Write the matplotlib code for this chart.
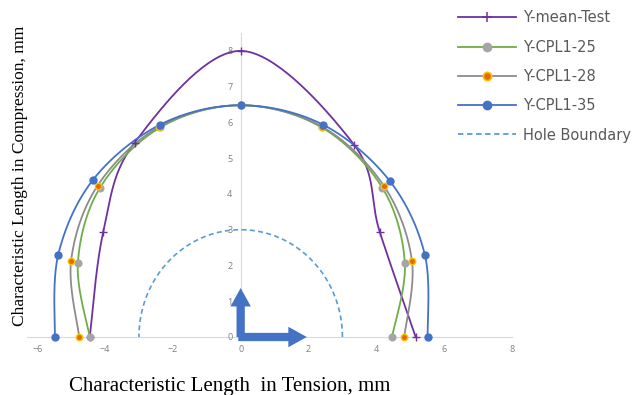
import numpy as np
import matplotlib
matplotlib.use("Agg")
import matplotlib.pyplot as plt
from matplotlib.lines import Line2D
from matplotlib.patches import FancyArrowPatch

# ---- data ----
mean_x = [-4.45, -4.05, -3.13, 0.0, 3.34, 4.10, 5.16]
mean_y = [0.0, 2.94, 5.43, 8.0, 5.38, 2.94, 0.0]

c25_x = [-4.45, -4.80, -4.15, -2.37, 0.0, 2.39, 4.18, 4.84, 4.46]
c25_y = [0.0, 2.07, 4.17, 5.86, 6.48, 5.86, 4.17, 2.07, 0.0]

c28_x = [-4.76, -5.00, -4.22, -2.40, 0.0, 2.40, 4.22, 5.05, 4.82]
c28_y = [0.0, 2.13, 4.23, 5.88, 6.48, 5.88, 4.23, 2.13, 0.0]

c35_x = [-5.48, -5.38, -4.35, -2.37, 0.0, 2.42, 4.39, 5.43, 5.51]
c35_y = [0.0, 2.30, 4.40, 5.94, 6.48, 5.94, 4.37, 2.30, 0.0]

hole_radius = 3.0
arrow_up_len = 1.37
arrow_right_len = 1.95

x_ticks = [-6, -4, -2, 0, 2, 4, 6, 8]
y_ticks = [0, 1, 2, 3, 4, 5, 6, 7, 8]

labels = ["Y-mean-Test", "Y-CPL1-25", "Y-CPL1-28", "Y-CPL1-35", "Hole Boundary"]


def smooth(xs, ys, n=40):
    """Excel-like smoothed line (Bezier with Catmull-Rom control points)."""
    P = np.column_stack([xs, ys]).astype(float)
    m = len(P)
    out = []
    for i in range(m - 1):
        p0 = P[i - 1] if i > 0 else P[i]
        p1 = P[i]
        p2 = P[i + 1]
        p3 = P[i + 2] if i + 2 < m else P[i + 1]
        c1 = p1 + (p2 - p0) / 6.0
        c2 = p2 - (p3 - p1) / 6.0
        t = np.linspace(0, 1, n)[:, None]
        seg = ((1 - t) ** 3) * p1 + 3 * ((1 - t) ** 2) * t * c1 + 3 * (1 - t) * t ** 2 * c2 + t ** 3 * p2
        out.append(seg if i == 0 else seg[1:])
    S = np.vstack(out)
    return S[:, 0], S[:, 1]


fig = plt.figure(figsize=(6.44, 3.95), dpi=100)
ax = fig.add_axes([27 / 644, 58 / 395, 485 / 644, 304 / 395])

purple = "#7030A0"
green = "#70AD47"
gray = "#A5A5A5"
gline = "#8C8C8C"
orange = "#E36C0A"
yellow = "#FFC000"
blue = "#4472C4"
lblue = "#5B9BD5"

lw = 1.3
# hole boundary
th = np.linspace(0, np.pi, 200)
ax.plot(hole_radius * np.cos(th), hole_radius * np.sin(th), color=lblue, lw=1.2,
        ls=(0, (3, 2)), zorder=2)

series = [
    (mean_x, mean_y, purple, dict(marker="+", ms=6, mec=purple, mew=1.0)),
    (c25_x, c25_y, green, dict(marker="o", ms=4.8, mfc=gray, mec=gray)),
    (c28_x, c28_y, gline, dict(marker="o", ms=4.6, mfc=orange, mec=yellow, mew=1.0)),
    (c35_x, c35_y, blue, dict(marker="o", ms=5, mfc=blue, mec=blue)),
]
for xs, ys, col, mk in series:
    sx, sy = smooth(xs, ys)
    ax.plot(sx, sy, color=col, lw=lw, zorder=3, clip_on=False)
    ax.plot(xs, ys, ls="none", zorder=4, clip_on=False, **mk)

# arrows
arrow_col = "#4472C4"
for dx, dy in [(0, arrow_up_len), (arrow_right_len, 0)]:
    ax.add_patch(FancyArrowPatch((0, 0) if dy else (-0.07, 0), (dx, dy),
                                 arrowstyle="simple,head_length=1.9,head_width=2.1,tail_width=0.85",
                                 mutation_scale=7, color=arrow_col, lw=0,
                                 shrinkA=0, shrinkB=0, zorder=5, clip_on=False))

ax.set_xlim(-6.3, 8)
ax.set_ylim(0, 8.5)
for s in ["top", "right"]:
    ax.spines[s].set_visible(False)
ax.spines["left"].set_position(("data", 0))
ax.spines["left"].set_color("#D9D9D9")
ax.spines["bottom"].set_color("#D9D9D9")
ax.spines["left"].set_zorder(0)
ax.spines["bottom"].set_zorder(0)
ax.set_xticks(x_ticks)
ax.set_yticks(y_ticks)
ax.tick_params(length=0, labelsize=6.5, labelcolor="#7F7F7F")
ax.tick_params(axis="y", pad=6)
ax.tick_params(axis="x", pad=6)
for lab in ax.get_xticklabels() + ax.get_yticklabels():
    lab.set_fontfamily("Open Sans")
ax.patch.set_alpha(0)

fig.text(0.031, 0.555, "Characteristic Length in Compression, mm", rotation=90,
         ha="center", va="center", family="Liberation Serif", fontsize=12.5)
fig.text(0.357, 0.022, "Characteristic Length  in Tension, mm",
         ha="center", va="center", family="Liberation Serif", fontsize=15)

handles = [
    Line2D([], [], color=purple, lw=lw, marker="+", ms=7, mew=1.1),
    Line2D([], [], color=green, lw=lw, marker="o", ms=6, mfc=gray, mec=gray),
    Line2D([], [], color=gline, lw=lw, marker="o", ms=6, mfc=orange, mec=yellow, mew=1.2),
    Line2D([], [], color=blue, lw=lw, marker="o", ms=6, mfc=blue, mec=blue),
    Line2D([], [], color=lblue, lw=1.3, ls=(0, (3, 2))),
]
leg = fig.legend(handles, labels, loc="upper left", bbox_to_anchor=(445 / 644, 1.007),
                 frameon=False, handlelength=4.0, labelspacing=0.98, handletextpad=0.42,
                 prop={"family": "DejaVu Sans", "size": 10.5})
for t in leg.get_texts():
    t.set_color("#595959")

fig.savefig("out.png", dpi=100)
